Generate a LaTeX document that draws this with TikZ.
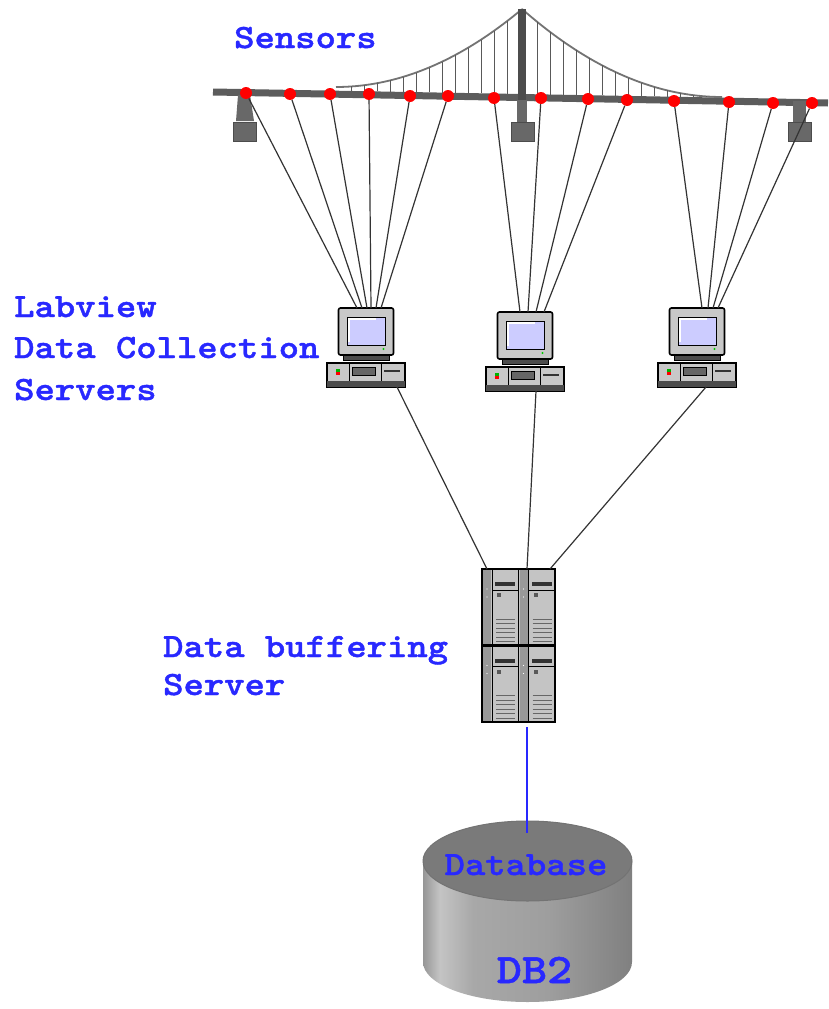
\documentclass[tikz,border=0pt]{standalone}
\usepackage{fontspec}
\usepackage{tikz}
\newfontfamily\lblfont[FakeStretch=1.14,FakeBold=1.2]{lmmonolt10-bold.otf}

\definecolor{lblblue}{RGB}{40,40,255}
\definecolor{deckgray}{RGB}{92,92,92}
\definecolor{piergray}{RGB}{104,104,104}
\definecolor{pcgray}{RGB}{200,200,200}
\definecolor{screen}{RGB}{204,204,255}
\definecolor{srvgray}{RGB}{196,196,196}
\definecolor{dbtopgray}{RGB}{122,122,122}
\definecolor{cylA}{RGB}{150,150,150}
\definecolor{cylB}{RGB}{196,196,196}
\definecolor{cylC}{RGB}{168,168,168}
\definecolor{cylD}{RGB}{158,158,158}
\definecolor{cylE}{RGB}{128,128,128}

% side of the DB2 cylinder, light band near the left edge
\pgfdeclarehorizontalshading{cylside}{100bp}{color(0bp)=(cylA); color(25bp)=(cylA);
  color(29bp)=(cylB); color(37bp)=(cylC); color(55bp)=(cylD); color(75bp)=(cylE);
  color(100bp)=(cylE)}

\tikzset{
  computer/.pic={
    % monitor
    \draw[fill=pcgray, line width=1.6, rounded corners=2] (-27.5,0) rectangle (27.5,47);
    \draw[fill=screen, line width=1] (-19,9) rectangle (19,37);
    \draw[white, line width=1.5] (-17,34) -- (-17,11) -- (10,11);
    \fill[green!80!black] (17.5,41) circle (1.2);
    \draw[fill=black!70, line width=1] (-23,47) rectangle (23,52);
    % desktop case
    \draw[fill=pcgray, line width=1.6] (-39,55) rectangle (39,79);
    \fill[black!70] (-39,73) rectangle (39,79);
    \draw[line width=.8] (-17,55) -- (-17,73) (15,55) -- (15,73);
    \fill[green!70!black] (-30,61) rectangle (-26,64);
    \fill[red] (-30,64) rectangle (-26,67);
    \draw[fill=black!60, line width=.6] (-14,59) rectangle (9,67);
    \fill[black!80] (18,61.5) rectangle (34,63.5);
    \coordinate (-top) at (0,0);
    \coordinate (-bot) at (0,79);
  },
  server/.pic={
    \foreach \cx/\cy in {0/0,36.5/0,0/76.5,36.5/76.5}{
      \begin{scope}[shift={(\cx,\cy)}]
        \draw[fill=srvgray, line width=1] (0,0) rectangle (36.5,76.5);
        \fill[black!40] (1,1) rectangle (9,75.5);
        \fill[white] (5,20) circle (.7) (5,28) circle (.7);
        \draw[line width=1] (10,0) -- (10,76.5);
        \draw[line width=.8] (10,21) -- (36.5,21);
        \fill[black!80] (13,13) rectangle (33,17);
        \fill[black!65] (15,24) rectangle (19,28);
        \foreach \v in {50,54.5,...,73} \draw[black!60, line width=.8] (14,\v) -- (33,\v);
      \end{scope}
    }
    \draw[line width=2] (0,0) rectangle (73,153);
    \draw[line width=2.5] (0,76.5) -- (73,76.5);
    \coordinate (-top) at (36.5,0);
    \coordinate (-bot) at (45,158);
  }
}

\begin{document}
\begin{tikzpicture}[x=1pt,y=-1pt,
  lbl/.style={text=lblblue, inner sep=0, anchor=base west,
    font=\lblfont\fontsize{34}{40}\selectfont},
  sensor/.style={circle, fill=red, inner sep=0, minimum size=12},
  wire/.style={black!80, line width=1.2},
  dblink/.style={lblblue, line width=1.5}]
  \fill[white] (0,0) rectangle (828,1009);
  \useasboundingbox (0,0) rectangle (828,1009);

  % bridge: deck, main cable with hangers, tower and piers
  \draw[deckgray, line width=7] (213,92) -- (828,103);
  \draw[black!55, line width=1.8] plot[domain=336:522, samples=40]
    (\x, {87-0.225*((\x-336)/10)^2});
  \draw[black!55, line width=1.8] plot[domain=522:722, samples=40]
    (\x, {97-0.22*((722-\x)/10)^2});
  \foreach \x in {507,494,...,340}
    \draw[black!65, line width=1] (\x, {87-0.225*((\x-336)/10)^2}) -- (\x, {88.5+0.0179*(\x-213)});
  \foreach \x in {537,550,...,715}
    \draw[black!65, line width=1] (\x, {97-0.22*((722-\x)/10)^2}) -- (\x, {88.5+0.0179*(\x-213)});
  \fill[black!70] (518,9) rectangle (526,100);
  \fill[piergray] (517,100) rectangle (527,123);
  \fill[piergray] (238,95) -- (250,95) -- (254,121) -- (236,121) -- cycle;
  \fill[piergray] (793,101) rectangle (806,123);
  \foreach \bx in {233,511,788}
    \draw[fill=piergray, draw=black!70] (\bx,122) rectangle ++(23,19);

  % sensors along the deck
  \foreach \x/\y [count=\i] in {246/93,290/94,330/94,369/94,410/96,448/96,494/98,
      541/98,588/99,627/100,674/101,729/102,773/103,812/103}
    \node[sensor] (s\i) at (\x,\y) {};

  % collection PCs and the buffer server
  \pic (pc1) at (366,308) {computer};
  \pic (pc2) at (525,312) {computer};
  \pic (pc3) at (697,308) {computer};
  \pic (srv) at (482,569) {server};

  \foreach \i/\o in {1/-9,2/-4,3/1,4/5,5/10,6/15}
    \draw[wire] (s\i) -- ([xshift=\o]pc1-top);
  \foreach \i/\o in {7/-5,8/3,9/11,10/19}
    \draw[wire] (s\i) -- ([xshift=\o]pc2-top);
  \foreach \i/\o in {11/5,12/11,13/16,14/21}
    \draw[wire] (s\i) -- ([xshift=\o]pc3-top);

  \draw[wire] ([xshift=31]pc1-bot) -- ([xshift=-31.5]srv-top);
  \draw[wire] ([xshift=11]pc2-bot) -- ([xshift=8.5]srv-top);
  \draw[wire] ([xshift=9]pc3-bot) -- ([xshift=31.5]srv-top);

  % DB2 cylinder
  \shade[shading=cylside] (423,861) -- (423,962)
    arc[start angle=180, end angle=0, x radius=104.5, y radius=40] -- (632,861) -- cycle;
  \draw[fill=dbtopgray, draw=black!55, line width=1] (527.5,861) ellipse [x radius=104.5, y radius=40];
  \coordinate (dbtop) at (527,833);
  \draw[dblink] (srv-bot) -- (dbtop);

  % labels
  \node[lbl] (sensors) at (234,48) {Sensors};
  \node[lbl] (labview) at (14,317) {Labview};
  \node[lbl] (collect) at (14,358) {Data Collection};
  \node[lbl] (servers) at (14,400) {Servers};
  \node[lbl] (buffer) at (163,657) {Data buffering};
  \node[lbl] (bufsrv) at (163,695) {Server};
  \node[lbl, anchor=base] (dbase) at (526,875) {Database};
  \node[lbl, anchor=base, font=\lblfont\fontsize{42}{48}\selectfont] (dbtwo) at (534.5,983) {DB2};
\end{tikzpicture}
\end{document}
